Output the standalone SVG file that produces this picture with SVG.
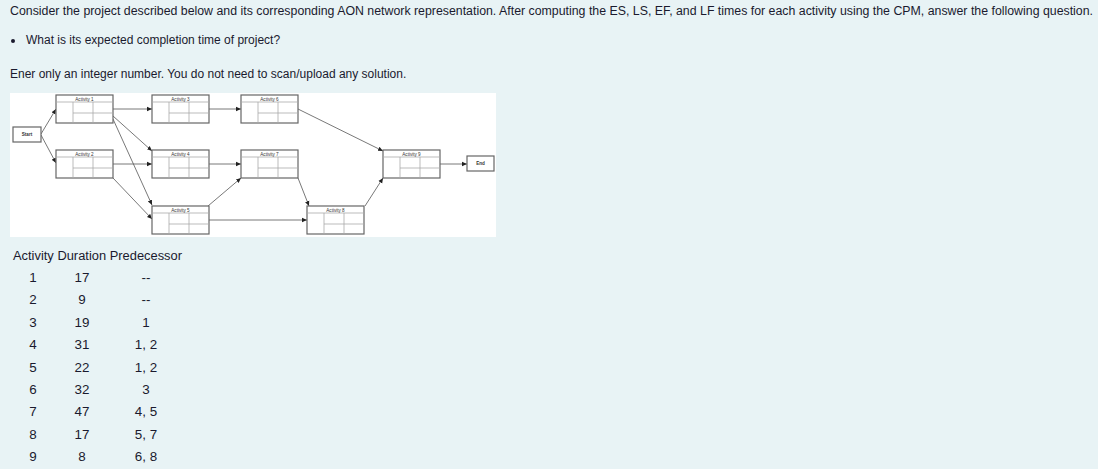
<svg xmlns="http://www.w3.org/2000/svg" width="1098" height="469" viewBox="0 0 1098 469">
<style>
.t{font-family:"Liberation Sans",Arial,sans-serif;font-size:12px;fill:#1a1a2e}
.tb{font-family:"Liberation Sans",Arial,sans-serif;font-size:13.4px;fill:#1a1a2e;text-anchor:middle}
.box{fill:#fff;stroke:#666;stroke-width:1.2}
.ln{stroke:#aaa;stroke-width:0.8;fill:none}
.lbl{font-family:"Liberation Sans",Arial,sans-serif;font-size:4.6px;fill:#333;text-anchor:middle}
.e{stroke:#555;stroke-width:0.8;fill:none;marker-end:url(#ah)}
</style>
<defs>
<marker id="ah" markerWidth="6" markerHeight="6" refX="5" refY="3" orient="auto" markerUnits="userSpaceOnUse"><path d="M0,0.8 L5,3 L0,5.2z" fill="#222"/></marker>
<g id="act"><rect class="box" x="0" y="0" width="57" height="28"/><path class="ln" d="M0,7H57M17,7V28M37,7V28M17,18H57"/></g>
</defs>
<rect width="1098" height="469" fill="#e8f3f5"/>
<text class="t" x="10" y="15" textLength="1083" lengthAdjust="spacingAndGlyphs">Consider the project described below and its corresponding AON network representation. After computing the ES, LS, EF, and LF times for each activity using the CPM, answer the following question.</text>
<circle cx="13" cy="41" r="2" fill="#1a1a2e"/>
<text class="t" x="26" y="44">What is its expected completion time of project?</text>
<text class="t" x="10" y="78">Ener only an integer number. You do not need to scan/upload any solution.</text>
<rect x="10" y="93" width="486" height="144" fill="#fff"/>
<g id="connectors">
<path class="e" d="M41,134L56,109"/>
<path class="e" d="M41,135L56,163"/>
<path class="e" d="M113,109L152,109"/>
<path class="e" d="M113,116L152,151"/>
<path class="e" d="M113,119L152,205"/>
<path class="e" d="M113,164L152,164"/>
<path class="e" d="M113,178L152,219"/>
<path class="e" d="M208,109L241,109"/>
<path class="e" d="M208,164L241,164"/>
<path class="e" d="M208,206L241,178"/>
<path class="e" d="M208,220L307,220"/>
<path class="e" d="M298,178L309,206"/>
<path class="e" d="M298,109L383,151"/>
<path class="e" d="M365,206L383,178"/>
<path class="e" d="M439,164L467,164"/>
</g>
<g id="start"><rect class="box" x="13" y="127" width="28" height="15"/><text class="lbl" x="27" y="136" font-weight="bold">Start</text></g>
<g id="end"><rect class="box" x="467" y="156" width="27" height="15"/><text class="lbl" x="480.5" y="165" font-weight="bold">End</text></g>
<g id="a1"><use href="#act" x="56" y="95"/><text class="lbl" x="84.5" y="100.5">Activity 1</text></g>
<g id="a2"><use href="#act" x="56" y="150"/><text class="lbl" x="84.5" y="155.5">Activity 2</text></g>
<g id="a3"><use href="#act" x="152" y="95"/><text class="lbl" x="180.5" y="100.5">Activity 3</text></g>
<g id="a4"><use href="#act" x="152" y="150"/><text class="lbl" x="180.5" y="155.5">Activity 4</text></g>
<g id="a5"><use href="#act" x="152" y="206"/><text class="lbl" x="180.5" y="211.5">Activity 5</text></g>
<g id="a6"><use href="#act" x="241" y="95"/><text class="lbl" x="269.5" y="100.5">Activity 6</text></g>
<g id="a7"><use href="#act" x="241" y="150"/><text class="lbl" x="269.5" y="155.5">Activity 7</text></g>
<g id="a8"><use href="#act" x="307" y="206"/><text class="lbl" x="335.5" y="211.5">Activity 8</text></g>
<g id="a9"><use href="#act" x="383" y="150"/><text class="lbl" x="411.5" y="155.5">Activity 9</text></g>
<text class="t" x="13" y="260" font-size="13.4" textLength="169" lengthAdjust="spacingAndGlyphs">Activity Duration Predecessor</text>
<g class="tb">
<text x="33" y="282">1</text><text x="82" y="282">17</text><text x="146" y="282">--</text>
<text x="33" y="304">2</text><text x="82" y="304">9</text><text x="146" y="304">--</text>
<text x="33" y="327">3</text><text x="82" y="327">19</text><text x="146" y="327">1</text>
<text x="33" y="349">4</text><text x="82" y="349">31</text><text x="146" y="349">1, 2</text>
<text x="33" y="372">5</text><text x="82" y="372">22</text><text x="146" y="372">1, 2</text>
<text x="33" y="394">6</text><text x="82" y="394">32</text><text x="146" y="394">3</text>
<text x="33" y="416">7</text><text x="82" y="416">47</text><text x="146" y="416">4, 5</text>
<text x="33" y="439">8</text><text x="82" y="439">17</text><text x="146" y="439">5, 7</text>
<text x="33" y="461">9</text><text x="82" y="461">8</text><text x="146" y="461">6, 8</text>
</g>
</svg>
